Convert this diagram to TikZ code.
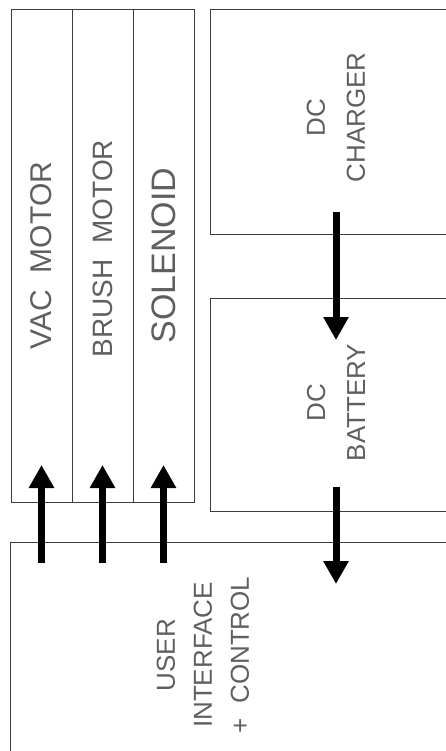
\documentclass[tikz,border=0pt]{standalone}
\usepackage{fontspec}
\setmainfont{Liberation Sans}
\usepackage{xcolor}
\definecolor{boxgray}{RGB}{60, 60, 60}
\definecolor{textgray}{RGB}{95, 95, 95}
\usepackage{tikz}
\usetikzlibrary{arrows.meta, positioning, calc}

\begin{document}
\begin{tikzpicture}[x=1pt, y=-1pt,
    box/.style={draw=boxgray, line width=0.8pt, inner sep=0pt, outer sep=0pt},
    lbl/.style={rotate=90, text=textgray, align=center, inner sep=0pt},
    flow/.style={line width=7pt, -{Triangle[width=24pt, length=23pt]}}]
    \useasboundingbox (0,0) rectangle (446,751);
    \clip (0,0) rectangle (446,751);

    % load blocks
    \node[box, minimum width=61pt, minimum height=493pt] (vac) at (41.5,255.5) {};
    \node[box, minimum width=61pt, minimum height=493pt, right=0pt of vac] (brush) {};
    \node[box, minimum width=61pt, minimum height=493pt, right=0pt of brush] (sol) {};
    \node[lbl, font=\fontsize{30}{36}\selectfont] (vactxt) at (vac) {VAC\ \ MOTOR};
    \node[lbl, font=\fontsize{28}{34}\selectfont] (brushtxt) at ($(brush)+(0,-7)$) {BRUSH\ \ MOTOR};
    \node[lbl, font=\fontsize{34}{40}\selectfont] (soltxt) at (sol) {SOLENOID};

    % power blocks
    \node[box, minimum width=252pt, minimum height=225pt] (chg) at (336,121.5) {};
    \node[box, minimum width=252pt, minimum height=213pt, below=64pt of chg] (bat) {};
    \node[lbl, font=\fontsize{26}{40}\selectfont] (chgtxt) at ($(chg)+(0,-4)$) {DC\\CHARGER};
    \node[lbl, font=\fontsize{26}{40}\selectfont] (battxt) at ($(bat)+(0,-2)$) {DC\\BATTERY};

    % control block
    \node[box, minimum width=470pt, minimum height=238pt] (ui) at (245,661) {};
    \node[lbl, font=\fontsize{26}{37}\selectfont] (uitxt) at (203,655) {USER\\INTERFACE\\+\ \ CONTROL};

    % arrows
    \foreach \load in {vac, brush, sol}
        \draw[flow] ($(\load.south |- ui.north)+(0,21)$) -- ($(\load.south)+(0,-37)$);
    \draw[flow] ($(chg.south)+(0,-22)$) -- ($(bat.north)+(0,42)$);
    \draw[flow] ($(bat.south)+(0,-24)$) -- ($(ui.north -| bat.south)+(0,42)$);
\end{tikzpicture}
\end{document}
